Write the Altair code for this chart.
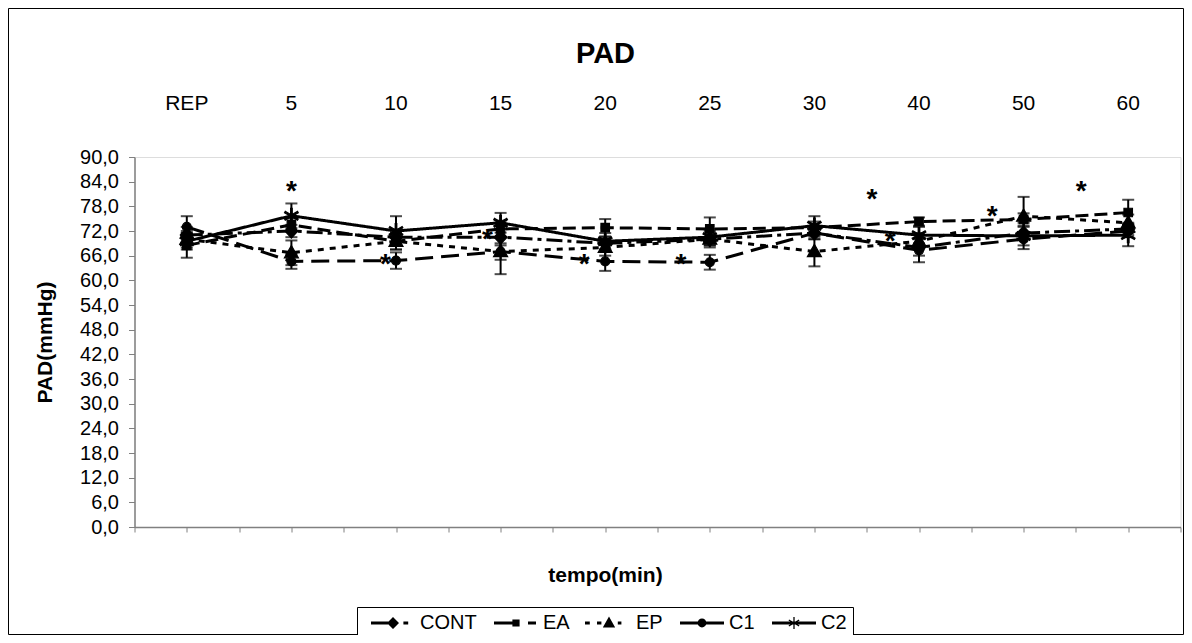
import altair as alt
import pandas as pd

categories = ["REP", "5", "10", "15", "20", "25", "30", "40", "50", "60"]
series_names = ["CONT", "EA", "EP", "C1", "C2"]

cont = [71.0, 72.0, 70.5, 70.5, 69.0, 70.0, 71.5, 68.0, 71.5, 72.5]
ea   = [68.5, 73.5, 69.5, 72.5, 72.8, 72.5, 72.8, 74.3, 74.8, 76.5]
ep   = [70.0, 66.7, 69.5, 67.0, 68.0, 70.0, 67.0, 69.5, 75.6, 74.0]
c1   = [73.0, 64.6, 64.8, 67.0, 64.6, 64.4, 71.5, 67.3, 70.0, 72.0]
c2   = [69.5, 75.7, 72.0, 74.0, 69.5, 70.5, 73.3, 71.0, 70.8, 71.0]

err_cont = [2.0, 1.5, 1.5, 2.0, 1.5, 1.5, 1.5, 2.0, 1.5, 1.5]
err_ea   = [3.0, 1.5, 2.0, 2.0, 2.1, 2.8, 1.5, 1.0, 1.5, 3.1]
err_ep   = [2.0, 3.0, 2.0, 5.5, 2.0, 2.0, 3.6, 2.0, 4.7, 2.0]
err_c1   = [2.6, 1.8, 2.0, 2.0, 2.3, 1.8, 1.5, 2.9, 1.5, 1.5]
err_c2   = [2.0, 3.0, 3.6, 2.4, 2.0, 2.0, 2.3, 2.0, 3.2, 2.7]

# significance asterisks (position on the 0..20 category-tick axis, value)
star_pos = [3.0, 4.8, 6.75, 8.6, 10.45, 14.1, 14.45, 16.4, 18.1]
star_val = [83.3, 65.5, 71.6, 65.5, 65.5, 81.3, 71.1, 77.2, 83.3]

values = [cont, ea, ep, c1, c2]
errors = [err_cont, err_ea, err_ep, err_c1, err_c2]

rows = []
for s, vals, errs in zip(series_names, values, errors):
    for i, (cat, v, e) in enumerate(zip(categories, vals, errs)):
        rows.append({"series": s, "cat": cat, "pos": 2 * i + 1, "value": v,
                     "lo": v - e, "hi": v + e})
df = pd.DataFrame(rows)
df_cats = pd.DataFrame({"cat": categories, "pos": [2 * i + 1 for i in range(len(categories))]})
df_stars = pd.DataFrame({"pos": star_pos, "value": star_val})

FONT = "Liberation Sans"

ASTER = ("M-0.16,-1.5H0.16V1.5H-0.16Z"
         "M-1.374,-0.62L-1.224,-0.88L1.374,0.62L1.224,0.88Z"
         "M-1.224,0.88L-1.374,0.62L1.224,-0.88L1.374,-0.62Z")


def seg(x1, x2, h=0.375):
    return f"M{x1},{-h}H{x2}V{h}H{x1}Z"


marker_paths = [
    "M0,-1.4L1.3,0L0,1.4L-1.3,0Z",
    "M-0.85,-0.85H0.85V0.85H-0.85Z",
    "M0,-1.45L1.4,1.0H-1.4Z",
    "M-0.9,0A0.9,0.9,0,1,1,0.9,0A0.9,0.9,0,1,1,-0.9,0Z",
    ASTER,
]
legend_paths = [
    seg(-5.5, -1.2) + "M0,-1.5L1.5,0L0,1.5L-1.5,0Z" + seg(2.6, 3.8),
    seg(-5.5, -0.9) + "M-0.9,-0.9H0.9V0.9H-0.9Z" + seg(3.0, 5.0),
    seg(-6.0, -4.8) + seg(-3.0, -1.9) + "M0,-1.6L1.55,1.1H-1.55Z" + seg(2.2, 3.1),
    seg(-5.5, 5.5) + "M-1.1,0A1.1,1.1,0,1,1,1.1,0A1.1,1.1,0,1,1,-1.1,0Z",
    seg(-5.5, 5.5) + ASTER,
]
dashes = [[16, 5, 4, 5], [13, 6], [6, 6], [18, 8], [1, 0]]

W, H = 1046, 370

x_enc = alt.X(
    "pos:Q",
    scale=alt.Scale(domain=[0, 20], nice=False, zero=False),
    axis=alt.Axis(
        values=list(range(21)), tickCount=40, labels=False, tickSize=5, grid=False,
        domainColor="#808080", tickColor="#808080", domainWidth=1.5,
        title="tempo(min)", titleFontSize=21, titleFontWeight="bold",
        titleFont=FONT, titleX=470.5, titleY=48, titleBaseline="middle",
        titleColor="black",
    ),
)
y_enc = alt.Y(
    "value:Q",
    scale=alt.Scale(domain=[0, 90], nice=False),
    axis=alt.Axis(
        values=list(range(0, 91, 6)), tickCount=40,
        labelExpr="replace(format(datum.value, '.1f'), '.', ',')",
        labelOverlap=False, labelBound=False,
        tickSize=6, labelPadding=10, grid=False,
        domainColor="#808080", tickColor="#808080", domainWidth=1.5,
        labelFontSize=20, labelFont=FONT, labelColor="black",
        title="PAD(mmHg)", titleFontSize=21, titleFontWeight="bold",
        titleFont=FONT, titleX=-89.5, titleY=185, titleBaseline="middle",
        titleColor="black",
    ),
)

base = alt.Chart(df)

lines = base.mark_line(strokeWidth=3, color="black").encode(
    x=x_enc, y=y_enc,
    strokeDash=alt.StrokeDash("series:N", scale=alt.Scale(domain=series_names, range=dashes), legend=None),
    order="pos:Q",
)

err_rule = base.mark_rule(color="black", strokeWidth=2).encode(
    x="pos:Q", y="lo:Q", y2="hi:Q"
)
err_caps = base.transform_fold(["lo", "hi"], as_=["end", "cap"]).mark_tick(
    orient="horizontal", size=12, thickness=2, color="black"
).encode(x="pos:Q", y="cap:Q")

points = base.mark_point(filled=True, fill="black", stroke="black", strokeWidth=1.2,
                         size=100, opacity=1).encode(
    x="pos:Q", y="value:Q",
    shape=alt.Shape("series:N", scale=alt.Scale(domain=series_names, range=marker_paths), legend=None),
)

legend_layer = base.transform_filter("datum.pos < 0").transform_calculate(
    key="datum.series"
).mark_point(filled=True, color="black", opacity=1).encode(
    x="pos:Q", y="value:Q",
    shape=alt.Shape(
        "key:N",
        scale=alt.Scale(domain=series_names, range=legend_paths),
        legend=alt.Legend(
            title=None, orient="none", legendX=222.5, legendY=450,
            direction="horizontal", columns=5,
            symbolSize=64, symbolFillColor="black", symbolOpacity=1,
            symbolStrokeWidth=0, symbolOffset=20,
            labelFontSize=20, labelFont=FONT, labelColor="black",
            labelOffset=17, columnPadding=9, padding=6,
            strokeColor="black", fillColor="white",
        ),
    ),
)

top_labels = alt.Chart(df_cats).mark_text(fontSize=21, font=FONT, baseline="middle",
                                          color="black").encode(
    x="pos:Q", y=alt.value(-53), text="cat:N"
)

stars = alt.Chart(df_stars).mark_text(text="*", fontSize=28, fontWeight="bold", font=FONT,
                                      baseline="alphabetic", dy=15, color="black").encode(
    x="pos:Q", y="value:Q"
)

frame = alt.Chart(pd.DataFrame({"a": [0]})).mark_rect(
    fill=None, stroke="black", strokeWidth=1
).encode(
    x=alt.value(-126), x2=alt.value(1049), y=alt.value(-148.5), y2=alt.value(477.5)
)

chart = alt.layer(
    lines, err_rule, err_caps, points, legend_layer, top_labels, stars, frame
).resolve_scale(shape="independent").properties(
    width=W, height=H,
    title=alt.TitleParams("PAD", fontSize=29, fontWeight="bold", font=FONT,
                          dx=-52, offset=0, dy=61, anchor="middle", color="black"),
    autosize=alt.AutoSizeParams(type="none"),
    padding={"left": 126.5, "top": 149, "right": 3.5, "bottom": 108},
).configure_view(stroke=None).configure(font=FONT).configure_axisY(labelOverlap=False)

chart.save("out.html", embed_options={"renderer": "svg", "actions": False})
